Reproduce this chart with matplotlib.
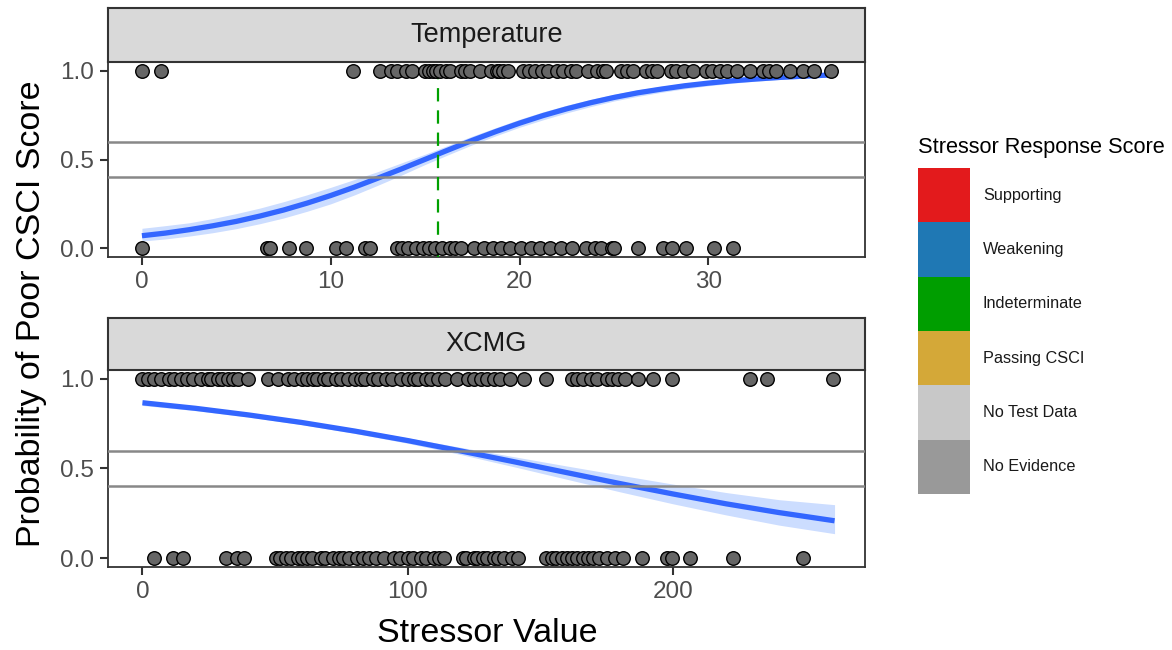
import matplotlib
matplotlib.use("Agg")
import matplotlib.pyplot as plt
from matplotlib.patches import Rectangle

plt.rcParams['font.family'] = ['Liberation Sans', 'DejaVu Sans']

# ---------------- data ----------------
temp_pos = [0.0, 1.0, 11.2, 12.6, 13.2, 13.5, 14.0, 14.3, 15.0, 15.2, 15.4, 15.6, 15.8, 16.1,
            16.3, 16.9, 17.1, 17.4, 17.9, 18.5, 18.8, 18.9, 19.1, 19.4, 20.2, 20.5, 20.8, 21.2,
            21.5, 22.0, 22.3, 22.7, 23.0, 23.6, 24.1, 24.4, 24.6, 25.4, 25.7, 26.0, 26.7, 27.0,
            27.3, 28.0, 28.3, 28.7, 29.2, 29.9, 30.2, 30.6, 31.0, 31.5, 32.2, 32.9, 33.2, 33.6,
            34.3, 35.0, 35.6, 36.5]
temp_neg = [0.0, 6.6, 6.8, 7.8, 8.7, 10.3, 10.8, 11.8, 12.1, 13.5, 13.8, 14.1, 14.5, 14.9,
            15.2, 15.5, 15.9, 16.3, 16.6, 16.9, 17.6, 18.1, 18.6, 19.0, 19.5, 20.1, 20.6, 21.1,
            21.6, 22.2, 22.8, 23.5, 24.0, 24.3, 24.9, 25.0, 26.3, 27.6, 28.1, 28.8, 30.3, 31.3]
temp_threshold = 15.7

temp_fit_x = [0, 1.25, 2.5, 3.75, 5, 6.25, 7.5, 8.75, 10, 11.25, 12.5, 13.75, 15, 16.25,
              17.5, 18.75, 20, 21.25, 22.5, 23.75, 25, 26.25, 27.5, 28.75, 30, 31.25, 32.5,
              33.75, 35, 36.5]
temp_fit_y = [0.070, 0.085, 0.104, 0.126, 0.151, 0.181, 0.215, 0.254, 0.297, 0.344, 0.395,
              0.447, 0.501, 0.555, 0.608, 0.658, 0.705, 0.748, 0.786, 0.820, 0.850, 0.876,
              0.897, 0.916, 0.931, 0.944, 0.954, 0.963, 0.970, 0.977]
temp_lo = [0.040, 0.052, 0.068, 0.087, 0.110, 0.138, 0.170, 0.208, 0.250, 0.300, 0.355,
           0.412, 0.472, 0.528, 0.583, 0.634, 0.682, 0.724, 0.763, 0.798, 0.830, 0.856,
           0.879, 0.899, 0.916, 0.930, 0.942, 0.951, 0.958, 0.965]
temp_hi = [0.112, 0.127, 0.143, 0.167, 0.195, 0.226, 0.262, 0.301, 0.343, 0.387, 0.432,
           0.481, 0.530, 0.581, 0.632, 0.680, 0.727, 0.769, 0.806, 0.839, 0.868, 0.893,
           0.913, 0.930, 0.944, 0.955, 0.965, 0.972, 0.979, 0.985]

xcmg_pos = [0, 2, 4.4, 7, 10.1, 12, 14.5, 17, 19, 22, 24.6, 26, 28.4, 30, 32.2, 34, 36, 39.7,
            47.2, 51, 54.8, 57, 60, 62, 64.2, 66, 68.3, 70, 72.9, 75, 77.4, 80, 82.3, 84, 86.8,
            89, 91.7, 94, 97.4, 100, 102.3, 104, 106.8, 109, 111.3, 114, 118.8, 122.6, 125,
            127.5, 130, 132.4, 135, 138.8, 143.8, 152, 162, 164, 166.3, 169, 171.5, 175.3, 177,
            179.5, 182, 187, 192.6, 199.8, 229, 235.6, 260.5]
xcmg_neg = [4.4, 11.4, 15.2, 31.4, 35.8, 38.3, 50.3, 52, 54, 56, 58.5, 60, 62.2, 64, 67.2, 69,
            72, 74, 75.8, 78, 81, 83, 85.3, 88, 91, 94.7, 97, 100, 102, 105, 107, 110, 112,
            113.6, 121, 122, 124.9, 126, 128.6, 130, 132.4, 134, 136.2, 139.5, 141.8, 152,
            154.6, 156, 158.3, 160, 162, 164, 166.3, 168, 170, 172, 175.3, 178.3, 181.4,
            188.5, 197.9, 199.8, 206.6, 222.8, 249.2]

xcmg_fit_x = [0, 20, 40, 60, 80, 100, 120, 140, 160, 180, 200, 220, 240, 261]
xcmg_fit_y = [0.867, 0.836, 0.799, 0.757, 0.709, 0.656, 0.598, 0.538, 0.477, 0.416, 0.358,
              0.303, 0.254, 0.208]
xcmg_lo = [0.852, 0.823, 0.787, 0.745, 0.696, 0.641, 0.578, 0.510, 0.440, 0.370, 0.303,
           0.241, 0.184, 0.136]
xcmg_hi = [0.882, 0.849, 0.811, 0.769, 0.722, 0.671, 0.618, 0.566, 0.514, 0.463, 0.413,
           0.366, 0.326, 0.298]

legend_labels = ["Supporting", "Weakening", "Indeterminate", "Passing CSCI",
                 "No Test Data", "No Evidence"]
legend_colors = ["#E31A1C", "#1F78B4", "#009E00", "#D4A838", "#C8C8C8", "#999999"]

panels = [
    dict(title="Temperature", pos=temp_pos, neg=temp_neg, fx=temp_fit_x, fy=temp_fit_y,
         lo=temp_lo, hi=temp_hi, xlim=(-1.8, 38.3), xticks=[0, 10, 20, 30],
         thr=temp_threshold, ax_rect=[0.0921, 0.6046, 0.6460, 0.3000],
         strip_rect=[0.0921, 0.9046, 0.6460, 0.0831]),
    dict(title="XCMG", pos=xcmg_pos, neg=xcmg_neg, fx=xcmg_fit_x, fy=xcmg_fit_y,
         lo=xcmg_lo, hi=xcmg_hi, xlim=(-13.0, 272.5), xticks=[0, 100, 200],
         thr=None, ax_rect=[0.0921, 0.1277, 0.6460, 0.3031],
         strip_rect=[0.0921, 0.4308, 0.6460, 0.0800]),
]

# ---------------- figure ----------------
fig = plt.figure(figsize=(11.72, 6.5), dpi=100)
fig.patch.set_facecolor("white")

for p in panels:
    ax = fig.add_axes(p["ax_rect"])
    ax.fill_between(p["fx"], p["lo"], p["hi"], color="#CCDDFF", lw=0, zorder=1)
    ax.plot(p["fx"], p["fy"], color="#3366FF", lw=3.8, solid_capstyle="butt",
            solid_joinstyle="round", zorder=2)
    for yv in (0.4, 0.6):
        ax.axhline(yv, color="#888888", lw=1.8, zorder=3)
    if p["thr"] is not None:
        ax.axvline(p["thr"], color="#00A000", lw=1.6, ls=(0, (6, 4)), zorder=3)
    ax.scatter(p["pos"], [1.0] * len(p["pos"]), s=95, facecolor="#666666",
               edgecolor="black", linewidth=1.0, zorder=4)
    ax.scatter(p["neg"], [0.0] * len(p["neg"]), s=95, facecolor="#666666",
               edgecolor="black", linewidth=1.0, zorder=4)
    ax.set_xlim(*p["xlim"])
    ax.set_ylim(-0.05, 1.05)
    ax.set_xticks(p["xticks"])
    ax.set_yticks([0.0, 0.5, 1.0])
    ax.set_yticklabels(["0.0", "0.5", "1.0"])
    ax.tick_params(axis="both", labelsize=17.5, colors="#333333", labelcolor="#4D4D4D",
                   length=5.5, width=1.5, direction="out", pad=4.5)
    for sp in ax.spines.values():
        sp.set_color("#333333")
        sp.set_linewidth(1.3)

    sax = fig.add_axes(p["strip_rect"])
    sax.set_facecolor("#D9D9D9")
    sax.set_xticks([])
    sax.set_yticks([])
    for sp in sax.spines.values():
        sp.set_color("#333333")
        sp.set_linewidth(1.5)
    sax.text(0.5, 0.5, p["title"], transform=sax.transAxes, ha="center", va="center",
             fontsize=19.5, color="#1A1A1A")

fig.text(0.4155, 0.025, "Stressor Value", ha="center", va="center", fontsize=24.5,
         color="black")
fig.text(0.027, 0.517, "Probability of Poor CSCI Score", ha="center", va="center",
         fontsize=24.5, rotation=90, color="black")

# ---------------- legend ----------------
fig.text(918 / 1172, 1 - 147 / 650, "Stressor Response Score", ha="left", va="center",
         fontsize=15.7, color="black")
lax = fig.add_axes([918 / 1172, 1 - 494 / 650, 52 / 1172, 326 / 650])
lax.set_xlim(0, 1)
lax.set_ylim(0, len(legend_labels))
lax.axis("off")
n = len(legend_labels)
for i, (lab, col) in enumerate(zip(legend_labels, legend_colors)):
    y0 = n - 1 - i
    lax.add_patch(Rectangle((0, y0), 1, 1, facecolor=col, edgecolor="none"))
    lax.text(1.25, y0 + 0.5, lab, ha="left", va="center", fontsize=11.7, color="#1A1A1A",
             transform=lax.transData, clip_on=False)

fig.savefig("out.png", dpi=100, facecolor="white")
